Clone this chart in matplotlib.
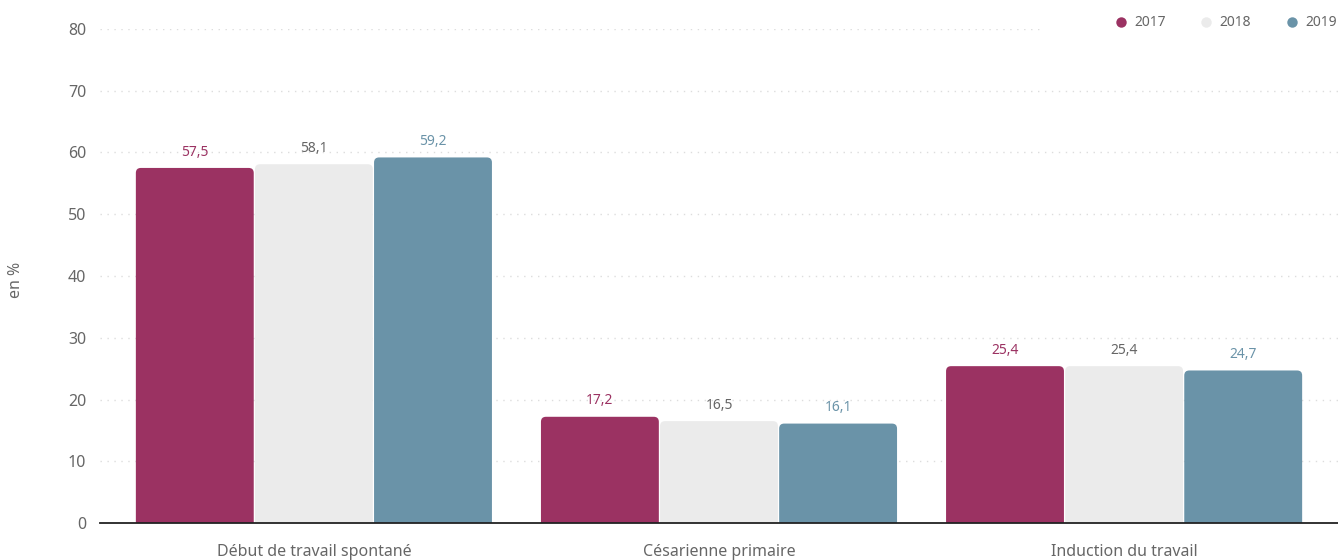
import numpy as np
import matplotlib.pyplot as plt
from matplotlib.patches import FancyBboxPatch
from matplotlib.lines import Line2D

plt.rcParams['font.family'] = ['Noto Sans', 'DejaVu Sans']

# data
categories = ['Début de travail spontané', 'Césarienne primaire', 'Induction du travail']
years = ['2017', '2018', '2019']
vals_2017 = [57.5, 17.2, 25.4]
vals_2018 = [58.1, 16.5, 25.4]
vals_2019 = [59.2, 16.1, 24.7]
series = [vals_2017, vals_2018, vals_2019]

bar_colors = ['#9B3262', '#EBEBEB', '#6A93A8']
label_colors = ['#9B3262', '#666666', '#6A93A8']
grey = '#666666'

fig = plt.figure(figsize=(13.38, 5.6), dpi=100)
ax = fig.add_axes([100 / 1338, 1 - 523 / 560, 1238 / 1338, (523 - 29) / 560])

x = np.arange(len(categories))
width = 0.291
offset = 0.294

ax.set_xlim(-0.528, 2.528)
ax.set_ylim(0, 80)

# px -> data conversion for rounded corners
px_x = (2.528 + 0.528) / 1238
px_y = 80 / 494
r = 5  # px

for i, (vals, col) in enumerate(zip(series, bar_colors)):
    xs = x + (i - 1) * offset
    for xi, v in zip(xs, vals):
        patch = FancyBboxPatch((xi - width / 2, -2), width, v + 2,
                               boxstyle=f'round,pad=0,rounding_size={r * px_x}',
                               mutation_aspect=px_y / px_x,
                               facecolor=col, edgecolor='none', zorder=3,
                               clip_on=True)
        ax.add_patch(patch)
        ax.annotate(f'{v:.1f}'.replace('.', ','), (xi, v),
                    textcoords='offset points', xytext=(0, 6),
                    ha='center', va='bottom', fontsize=10,
                    color=label_colors[i], zorder=4)

# grid (top line stops short of the legend)
for yv in range(10, 90, 10):
    xmax = (1040 - 100) / 1238 if yv == 80 else 1
    ax.axhline(yv, xmax=xmax, color='#dddddd', lw=1, ls=(0, (1, 4)), zorder=1)

for s in ['top', 'right', 'left']:
    ax.spines[s].set_visible(False)
ax.spines['bottom'].set_color('#222222')
ax.spines['bottom'].set_linewidth(1.3)
ax.spines['bottom'].set_zorder(5)

ax.set_yticks(range(0, 90, 10))
ax.tick_params(axis='y', length=0, pad=10, labelsize=11.5, labelcolor=grey)
ax.set_xticks(x)
ax.set_xticklabels(categories)
ax.tick_params(axis='x', length=0, pad=15, labelsize=11.5, labelcolor=grey)

fig.text(16 / 1338, 1 - 280 / 560, 'en %', rotation=90, ha='center', va='center',
         fontsize=11.5, color=grey)

handles = [Line2D([0], [0], marker='o', ls='none', markersize=7.5,
                  markerfacecolor=c, markeredgecolor='none') for c in bar_colors]
leg = fig.legend(handles, years, loc='center right',
                 bbox_to_anchor=(1337 / 1338, 1 - 23 / 560),
                 ncol=3, frameon=False, fontsize=10, labelcolor=grey,
                 handletextpad=0.45, columnspacing=2.45, handlelength=1.0,
                 borderaxespad=0, borderpad=0)

fig.savefig('out.png', dpi=100)
